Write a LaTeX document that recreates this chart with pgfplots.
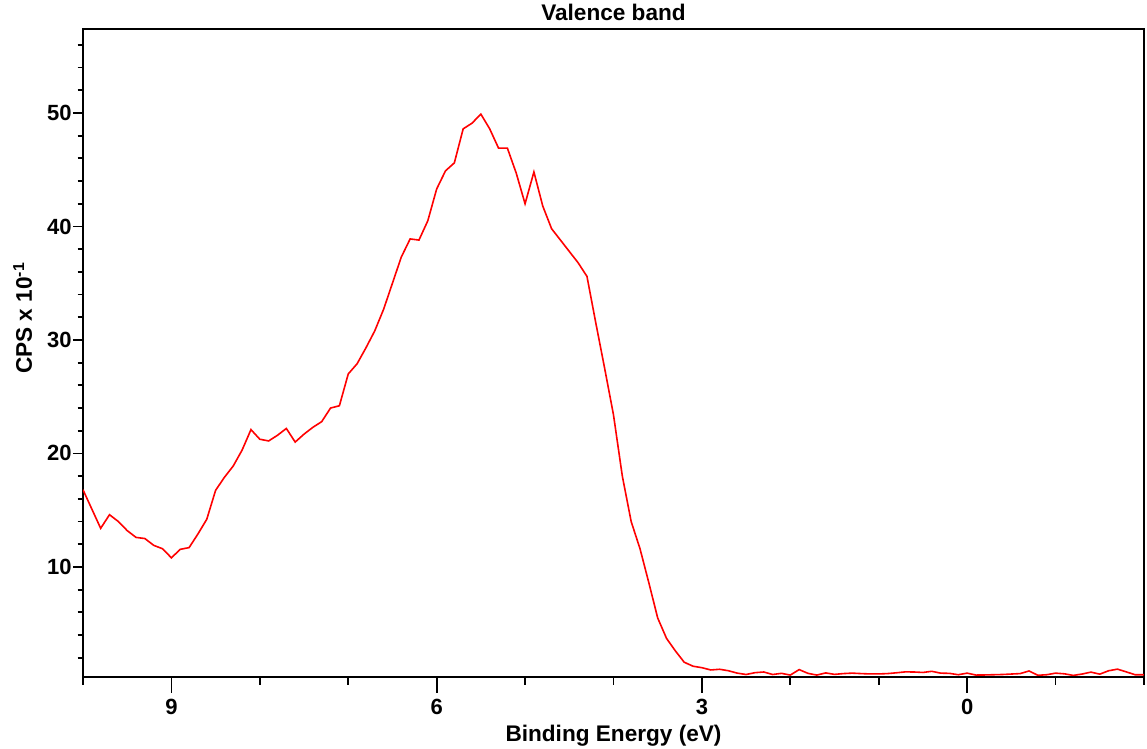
\documentclass[border=0pt]{standalone}
\usepackage{fontspec}
\setmainfont{Liberation Sans}
\usepackage{pgfplots}
\usepackage{pgfplotstable}
\pgfplotsset{compat=1.18}
\pgfplotstableread{
x y
10.0 16.8
9.9 15.1
9.8 13.4
9.7 14.6
9.6 14.0
9.5 13.2
9.4 12.6
9.3 12.5
9.2 11.9
9.1 11.6
9.0 10.8
8.9 11.55
8.8 11.7
8.7 12.9
8.6 14.2
8.5 16.75
8.4 17.9
8.3 18.9
8.2 20.3
8.1 22.1
8.0 21.25
7.9 21.1
7.8 21.6
7.7 22.2
7.6 21.0
7.5 21.7
7.4 22.3
7.3 22.8
7.2 24.0
7.1 24.2
7.0 27.0
6.9 27.9
6.8 29.3
6.7 30.8
6.6 32.7
6.5 35.0
6.4 37.3
6.3 38.9
6.2 38.8
6.1 40.5
6.0 43.3
5.9 44.9
5.8 45.6
5.7 48.6
5.6 49.1
5.5 49.9
5.4 48.6
5.3 46.9
5.2 46.9
5.1 44.7
5.0 42.0
4.9 44.8
4.8 41.8
4.7 39.8
4.6 38.8
4.5 37.8
4.4 36.8
4.3 35.6
4.2 31.5
4.1 27.5
4.0 23.4
3.9 18.0
3.8 14.0
3.7 11.6
3.6 8.6
3.5 5.5
3.4 3.7
3.3 2.6
3.2 1.6
3.1 1.25
3.0 1.12
2.9 0.92
2.8 0.98
2.7 0.85
2.6 0.64
2.5 0.52
2.4 0.68
2.3 0.74
2.2 0.52
2.1 0.62
2.0 0.47
1.9 0.95
1.8 0.62
1.7 0.47
1.6 0.66
1.5 0.53
1.4 0.6
1.3 0.64
1.2 0.6
1.1 0.57
1.0 0.57
0.9 0.6
0.8 0.67
0.7 0.75
0.6 0.74
0.5 0.7
0.4 0.8
0.3 0.64
0.2 0.62
0.1 0.5
0.0 0.64
-0.1 0.47
-0.2 0.48
-0.3 0.5
-0.4 0.52
-0.5 0.56
-0.6 0.6
-0.7 0.83
-0.8 0.45
-0.9 0.5
-1.0 0.64
-1.1 0.58
-1.2 0.44
-1.3 0.56
-1.4 0.73
-1.5 0.55
-1.6 0.85
-1.7 0.99
-1.8 0.75
-1.9 0.5
-2.0 0.5
}\datatable
\begin{document}
\begin{tikzpicture}
\begin{axis}[
  name=main,
  scale only axis,
  width=530.5pt, height=324pt,
  x dir=reverse,
  xmin=-2, xmax=10,
  ymin=0.3, ymax=57.4,
  axis line style={line width=0.9pt},
  every tick/.style={black, line width=0.9pt},
  tick align=outside,
  xtick pos=bottom, ytick pos=left,
  xtick=\empty,
  ytick={10,20,30,40,50},
  minor ytick={2,4,6,8,12,14,16,18,22,24,26,28,32,34,36,38,42,44,46,48,52,54,56},
  major tick length=5pt,
  minor tick length=2.7pt,
  /pgf/number format/assume math mode=true,
  ticklabel style={font=\fontsize{11}{13}\selectfont\bfseries},
  yticklabel style={anchor=east, inner sep=0pt, xshift=-0.5pt},
  every axis title shift=0pt,
  title={Valence band},
  title style={font=\fontsize{11.3}{13}\selectfont\bfseries, at={(axis description cs:0.5,1)}, anchor=base, yshift=4pt},
  ylabel={CPS x 10\textsuperscript{-1}},
  ylabel style={font=\fontsize{11.3}{13}\selectfont\bfseries, at={(axis description cs:-0.0481,0.554)}, anchor=base},
  xlabel={Binding Energy (eV)},
  xlabel style={font=\fontsize{11.3}{13}\selectfont\bfseries, at={(axis description cs:0.5,0)}, anchor=base, yshift=-32.5pt},
]
\addplot[color=red, line width=0.8pt, mark=none] table[x=x,y=y] {\datatable};
\end{axis}
\begin{axis}[
  scale only axis,
  width=530.5pt, height=324pt,
  x dir=reverse,
  xmin=-2, xmax=10,
  ymin=0.3, ymax=57.4,
  hide y axis,
  axis x line*=bottom,
  axis line style={line width=0.9pt},
  every tick/.style={black, line width=0.9pt},
  tick align=outside,
  xtick={0,3,6,9},
  minor xtick={-2,-1,1,2,4,5,7,8,10},
  major tick length=8pt,
  minor tick length=4pt,
  /pgf/number format/assume math mode=true,
  xticklabel style={font=\fontsize{11}{13}\selectfont\bfseries, anchor=base, yshift=-11pt},
]
\end{axis}
\pgfresetboundingbox
\path ([xshift=-41.5pt,yshift=-36pt]main.south west) rectangle ([xshift=1.5pt,yshift=14.5pt]main.north east);
\end{tikzpicture}
\end{document}
